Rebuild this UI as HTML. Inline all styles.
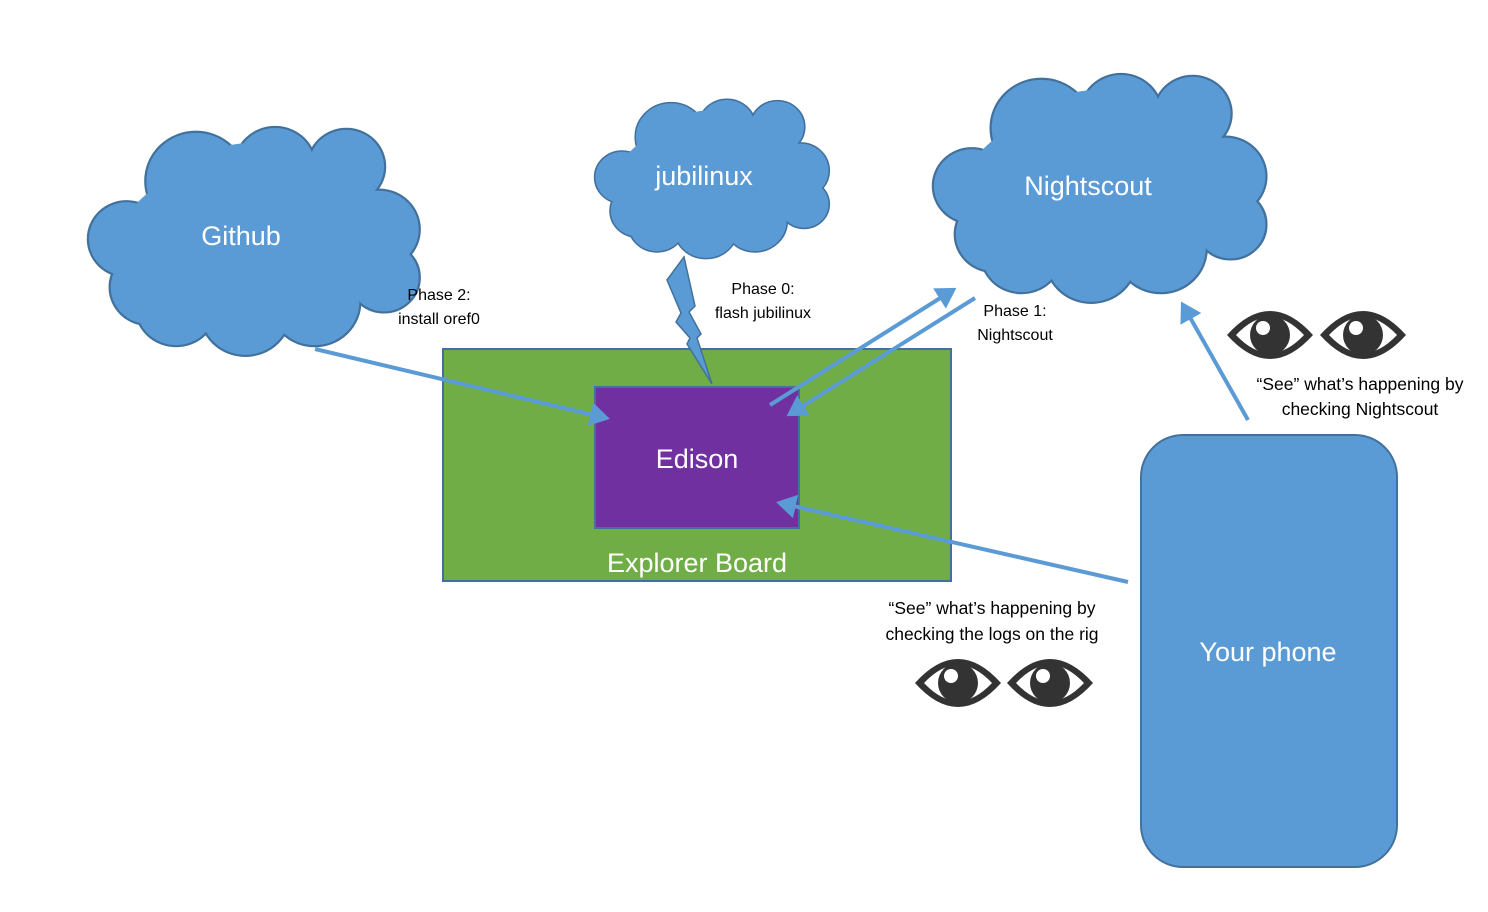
<!DOCTYPE html>
<html><head><style>
body{margin:0;width:1488px;height:912px;background:#fff;overflow:hidden}
svg{display:block}
text{font-family:"Liberation Sans",sans-serif}
</style></head><body>
<svg width="1488" height="912" viewBox="0 0 1488 912">
<defs>
<g id="cl">
 <g fill="#41719c" stroke="#41719c" stroke-width="2.5" vector-effect="non-scaling-stroke">
  <circle cx="40" cy="115" r="39"/><circle cx="62" cy="165" r="39"/><circle cx="110" cy="55" r="51"/>
  <circle cx="190" cy="40" r="41"/><circle cx="262" cy="40" r="39"/><circle cx="295" cy="105" r="41"/>
  <circle cx="300" cy="155" r="36"/><circle cx="230" cy="180" r="46"/><circle cx="160" cy="190" r="46"/>
  <circle cx="90" cy="185" r="41"/>
 </g>
 <g fill="#5b9bd5">
  <circle cx="40" cy="115" r="38"/><circle cx="62" cy="165" r="38"/><circle cx="110" cy="55" r="50"/>
  <circle cx="190" cy="40" r="40"/><circle cx="262" cy="40" r="38"/><circle cx="295" cy="105" r="40"/>
  <circle cx="300" cy="155" r="35"/><circle cx="230" cy="180" r="45"/><circle cx="160" cy="190" r="45"/>
  <circle cx="90" cy="185" r="40"/>
  <ellipse cx="170" cy="115" rx="135" ry="80"/>
  <ellipse cx="170" cy="110" rx="105" ry="95"/>
 </g>
</g>
<g id="eye">
 <path d="M-43 0 Q0 -48 43 0 Q0 48 -43 0Z" fill="#333"/>
 <path d="M-34 0 Q0 -36 34 0 Q0 36 -34 0Z" fill="#fff"/>
 <circle cx="0" cy="0" r="20" fill="#333"/>
 <circle cx="-7" cy="-7" r="7" fill="#fff"/>
</g>
<marker id="ah" markerWidth="6" markerHeight="6" refX="4" refY="3" orient="auto" markerUnits="strokeWidth">
 <path d="M0 0 L5 3 L0 6Z" fill="#5b9bd5"/>
</marker>
</defs>

<use href="#cl" transform="translate(87,128) scale(0.99,0.965)"/>
<use href="#cl" transform="translate(594,100) scale(0.70,0.672)"/>
<use href="#cl" transform="translate(932,75) scale(0.995,0.965)"/>
<text x="241" y="245" fill="#fff" font-size="27" text-anchor="middle">Github</text>
<text x="704" y="185" fill="#fff" font-size="27" text-anchor="middle">jubilinux</text>
<text x="1088" y="195" fill="#fff" font-size="27" text-anchor="middle">Nightscout</text>

<rect x="443" y="349" width="508" height="232" fill="#70ad47" stroke="#41719c" stroke-width="2"/>
<rect x="595" y="387" width="204" height="141" fill="#7030a0" stroke="#41719c" stroke-width="2"/>
<text x="697" y="468" fill="#fff" font-size="27" text-anchor="middle">Edison</text>
<text x="697" y="572" fill="#fff" font-size="27" text-anchor="middle">Explorer Board</text>

<path d="M684 257 L667 280 L681 313 L676 322 L690 338 L687 344 L712 384 L697 338 L701 334 L689 312 L695 306 Z" fill="#5b9bd5" stroke="#41719c" stroke-width="1.5"/>

<rect x="1141" y="435" width="256" height="432" rx="42" fill="#5b9bd5" stroke="#41719c" stroke-width="2"/>
<text x="1268" y="661" fill="#fff" font-size="27" text-anchor="middle">Your phone</text>

<g stroke="#5b9bd5" stroke-width="4" fill="none" marker-end="url(#ah)">
 <line x1="315" y1="349" x2="606" y2="418"/>
 <line x1="770" y1="405" x2="953" y2="290"/>
 <line x1="975" y1="298" x2="790" y2="414"/>
 <line x1="1128" y1="582" x2="780" y2="503"/>
 <line x1="1248" y1="420" x2="1183" y2="305"/>
</g>

<g font-size="16" fill="#000" text-anchor="middle">
 <text x="439" y="300">Phase 2:</text><text x="439" y="324">install oref0</text>
 <text x="763" y="294">Phase 0:</text><text x="763" y="318">flash jubilinux</text>
 <text x="1015" y="316">Phase 1:</text><text x="1015" y="340">Nightscout</text>
 <text x="1360" y="390" font-size="17.5">“See” what’s happening by</text>
 <text x="1360" y="415" font-size="17.5">checking Nightscout</text>
 <text x="992" y="614" font-size="17.5">“See” what’s happening by</text>
 <text x="992" y="640" font-size="17.5">checking the logs on the rig</text>
</g>

<use href="#eye" transform="translate(1270,335)"/>
<use href="#eye" transform="translate(1363,335)"/>
<use href="#eye" transform="translate(958,683)"/>
<use href="#eye" transform="translate(1050,683)"/>
</svg>
</body></html>
